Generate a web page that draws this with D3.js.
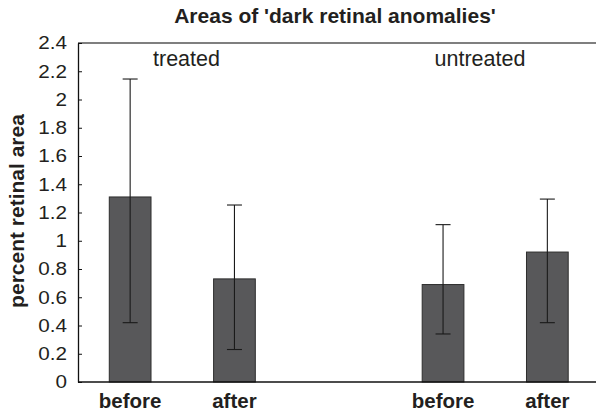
<!DOCTYPE html>
<html>
<head>
<meta charset="utf-8">
<script src="https://cdn.jsdelivr.net/npm/d3@7/dist/d3.min.js"></script>
<style>
  html, body { margin: 0; padding: 0; background: #fff; }
  svg { display: block; font-family: "Liberation Sans", Arial, Helvetica, sans-serif; }
</style>
</head>
<body>
<svg id="chart" width="596" height="414"></svg>
<script>
// ---- data ----
const slotIds    = ["t_before", "t_after", "gap", "u_before", "u_after"];
const slotLabels = ["before", "after", "", "before", "after"];
const barIds     = ["t_before", "t_after", "u_before", "u_after"];
const means      = [1.31, 0.73, 0.69, 0.92];
const errLow     = [0.42, 0.23, 0.34, 0.42];
const errHigh    = [2.145, 1.253, 1.114, 1.295];
const yTicks     = [0, 0.2, 0.4, 0.6, 0.8, 1, 1.2, 1.4, 1.6, 1.8, 2, 2.2, 2.4];
const groupLabels = ["treated", "untreated"];
const title = "Areas of 'dark retinal anomalies'";
const yTitle = "percent retinal area";

// ---- layout ----
const svg = d3.select("#chart");
const mLeft = 78, mRight = 599.5, mTop = 43, mBottom = 382;
const textColor = "#231f20";

const x = d3.scaleBand().domain(slotIds).range([mLeft, mRight])
  .paddingInner(0.6).paddingOuter(0.3);
const y = d3.scaleLinear().domain([0, 2.4]).range([mBottom, mTop]);

// top frame line
svg.append("line")
  .attr("x1", mLeft).attr("x2", 596)
  .attr("y1", y(2.4)).attr("y2", y(2.4))
  .attr("stroke", "#555").attr("stroke-width", 1.6);

// bars
const bars = barIds.map((id, i) => ({id, mean: means[i], lo: errLow[i], hi: errHigh[i]}));
svg.append("g").selectAll("rect").data(bars).join("rect")
  .attr("x", d => x(d.id))
  .attr("width", x.bandwidth())
  .attr("y", d => y(d.mean))
  .attr("height", d => y(0) - y(d.mean))
  .attr("fill", "#58585a")
  .attr("stroke", "#2e2e2e")
  .attr("stroke-width", 1);

// error bars
const cap = 7.5;
const eg = svg.append("g").attr("stroke", "#1a1a1a").attr("stroke-width", 1.1);
bars.forEach(d => {
  const cx = x(d.id) + x.bandwidth() / 2;
  eg.append("line").attr("x1", cx).attr("x2", cx).attr("y1", y(d.hi)).attr("y2", y(d.lo));
  eg.append("line").attr("x1", cx - cap).attr("x2", cx + cap).attr("y1", y(d.hi)).attr("y2", y(d.hi));
  eg.append("line").attr("x1", cx - cap).attr("x2", cx + cap).attr("y1", y(d.lo)).attr("y2", y(d.lo));
});

// y axis
const yAxis = svg.append("g")
  .attr("transform", `translate(${mLeft},0)`)
  .call(d3.axisLeft(y).tickValues(yTicks).tickSizeInner(-4).tickSizeOuter(0)
    .tickFormat(d3.format("~g")));
yAxis.select(".domain").attr("stroke", "#111").attr("stroke-width", 1.3);
yAxis.selectAll(".tick line").attr("stroke", "#111");
yAxis.selectAll(".tick text")
  .attr("x", -11 / 1.15)
  .attr("transform", "scale(1.15,1)")
  .attr("font-size", 18)
  .attr("fill", textColor)
  .attr("font-family", "'Liberation Sans', Arial, sans-serif");

// x baseline
svg.append("line")
  .attr("x1", mLeft).attr("x2", 596)
  .attr("y1", y(0)).attr("y2", y(0))
  .attr("stroke", "#111").attr("stroke-width", 1.3);

// x category labels
svg.append("g").selectAll("text").data(slotIds.filter((s, i) => slotLabels[i] !== "")).join("text")
  .attr("x", d => x(d) + x.bandwidth() / 2)
  .attr("y", 408)
  .attr("text-anchor", "middle")
  .attr("font-size", 20.5)
  .attr("font-weight", "bold")
  .attr("fill", textColor)
  .text(d => slotLabels[slotIds.indexOf(d)]);

// group labels
const groupX = [186.5, 480];
svg.append("g").selectAll("text").data(groupLabels).join("text")
  .attr("x", (d, i) => groupX[i])
  .attr("y", 65.5)
  .attr("text-anchor", "middle")
  .attr("font-size", 21.5)
  .attr("fill", textColor)
  .text(d => d);

// title
svg.append("text")
  .attr("x", 335).attr("y", 23)
  .attr("text-anchor", "middle")
  .attr("font-size", 21)
  .attr("font-weight", "bold")
  .attr("fill", textColor)
  .text(title);

// y title
svg.append("text")
  .attr("transform", "translate(24,211) rotate(-90)")
  .attr("text-anchor", "middle")
  .attr("font-size", 21)
  .attr("font-weight", "bold")
  .attr("fill", textColor)
  .text(yTitle);
</script>
</body>
</html>
